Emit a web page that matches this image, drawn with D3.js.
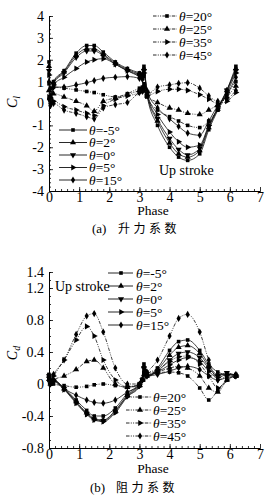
<!doctype html>
<html lang="zh">
<head>
<meta charset="utf-8">
<script src="https://d3js.org/d3.v7.min.js"></script>
<style>
  body { margin: 0; background: #fff; }
  svg { display: block; }
  svg text { font-family: "Liberation Serif", "DejaVu Serif", serif; }
  svg text.cjk { font-family: "Noto Sans CJK SC", sans-serif; }
</style>
</head>
<body>
<div id="chart"></div>
<script>
// phase samples shared by all curves
const phase = [0, 0.05, 0.15, 0.5, 0.9, 1.25, 1.5, 1.8, 2.2, 2.6, 3.0, 3.1, 3.15, 3.25, 3.6, 4.0, 4.3, 4.6, 5.0, 5.3, 5.6, 5.9, 6.2];
const thetas = ["-5", "2", "0", "5", "15", "20", "25", "35", "45"];

// lift coefficient
const lift_m5 = [1.9, 0.4, 1.0, 1.5, 2.3, 2.65, 2.65, 2.35, 1.9, 1.6, 1.4, 1.35, 1.7, 0.4, -1.0, -2.0, -2.45, -2.6, -2.3, -1.2, -0.3, 0.6, 1.7];
const lift_2  = [1.7, 0.3, 0.95, 1.45, 2.2, 2.5, 2.5, 2.25, 1.85, 1.55, 1.35, 1.3, 1.6, 0.45, -0.8, -1.8, -2.3, -2.45, -2.15, -1.1, -0.25, 0.6, 1.6];
const lift_0  = [1.5, 0.2, 0.9, 1.4, 2.1, 2.4, 2.4, 2.2, 1.8, 1.5, 1.3, 1.25, 1.5, 0.5, -0.7, -1.6, -2.1, -2.35, -2.05, -1.05, -0.2, 0.6, 1.5];
const lift_5  = [1.3, 0.1, 0.85, 1.2, 1.6, 1.9, 2.0, 2.05, 1.8, 1.5, 1.25, 1.2, 1.4, 0.5, -0.5, -1.3, -1.75, -2.0, -1.9, -1.0, -0.2, 0.5, 1.4];
const lift_15 = [1.0, 0.0, 0.75, 0.75, 0.85, 0.95, 1.05, 1.15, 1.2, 1.23, 1.15, 1.1, 1.3, 0.6, -0.2, -0.7, -1.05, -1.35, -1.45, -0.8, -0.1, 0.4, 1.2];
const lift_20 = [0.9, 0.7, 0.75, 0.7, 0.62, 0.55, 0.5, 0.4, 0.3, 0.45, 0.7, 0.75, 0.9, 0.3, -0.3, -0.6, -0.8, -1.0, -1.1, -0.8, -0.3, 0.4, 1.0];
const lift_25 = [0.6, 0.3, 0.45, 0.3, 0.1, -0.1, -0.35, 0.1, 0.25, 0.4, 0.6, 0.65, 0.8, 0.35, 0.05, -0.2, -0.3, -0.45, -0.5, -0.3, -0.05, 0.3, 0.8];
const lift_35 = [0.3, 0.0, 0.1, -0.15, -0.3, -0.45, -0.55, -0.1, 0.2, 0.35, 0.5, 0.6, 0.7, 0.35, 0.55, 0.65, 0.65, 0.6, 0.4, 0.2, 0.0, 0.1, 0.5];
const lift_45 = [0.2, -0.1, 0.0, -0.3, -0.45, -0.6, -0.7, -0.2, -0.05, 0.05, 0.5, 0.55, 0.6, 0.4, 0.75, 0.85, 0.92, 0.95, 0.7, 0.35, 0.1, 0.2, 0.6];

// drag coefficient
const drag_m5 = [0.12, 0.0, 0.05, -0.05, -0.2, -0.33, -0.4, -0.4, -0.3, -0.12, 0.0, 0.05, 0.25, 0.1, 0.2, 0.42, 0.53, 0.55, 0.42, 0.25, 0.15, 0.12, 0.12];
const drag_2  = [0.1, 0.0, 0.05, -0.06, -0.22, -0.36, -0.43, -0.45, -0.33, -0.14, -0.01, 0.05, 0.22, 0.1, 0.18, 0.36, 0.46, 0.48, 0.38, 0.22, 0.12, 0.12, 0.1];
const drag_0  = [0.1, 0.0, 0.04, -0.06, -0.23, -0.37, -0.44, -0.46, -0.34, -0.15, -0.02, 0.05, 0.2, 0.1, 0.16, 0.3, 0.38, 0.4, 0.33, 0.2, 0.1, 0.14, 0.1];
const drag_5  = [0.1, 0.0, 0.04, -0.07, -0.24, -0.38, -0.45, -0.47, -0.36, -0.16, -0.03, 0.05, 0.18, 0.1, 0.15, 0.24, 0.3, 0.33, 0.28, 0.16, 0.08, 0.12, 0.1];
const drag_15 = [0.08, 0.0, 0.03, -0.06, -0.14, -0.2, -0.23, -0.24, -0.2, -0.1, -0.02, 0.05, 0.15, 0.1, 0.12, 0.16, 0.2, 0.22, 0.18, 0.1, 0.05, 0.08, 0.1];
const drag_20 = [0.05, 0.02, 0.0, -0.02, -0.04, -0.03, -0.01, 0.0, -0.02, -0.04, 0.0, 0.05, 0.12, 0.12, 0.14, 0.15, 0.14, 0.1, -0.05, -0.2, -0.08, 0.05, 0.1];
const drag_25 = [0.06, 0.02, 0.05, 0.1, 0.18, 0.28, 0.3, 0.2, 0.0, -0.04, -0.02, 0.05, 0.12, 0.13, 0.15, 0.2, 0.22, 0.2, 0.1, -0.05, -0.1, 0.05, 0.1];
const drag_35 = [0.06, 0.04, 0.1, 0.3, 0.55, 0.72, 0.6, 0.3, 0.05, -0.03, -0.01, 0.05, 0.12, 0.14, 0.18, 0.28, 0.34, 0.35, 0.25, 0.1, -0.05, 0.05, 0.1];
const drag_45 = [0.08, 0.05, 0.12, 0.3, 0.62, 0.85, 0.88, 0.65, 0.2, 0.0, 0.0, 0.05, 0.12, 0.15, 0.3, 0.6, 0.82, 0.87, 0.65, 0.3, 0.05, 0.1, 0.12];

const xTicks = [0, 1, 2, 3, 4, 5, 6, 7];
const liftTicks = [-4, -3, -2, -1, 0, 1, 2, 3, 4];
const dragTicks = [-0.8, -0.4, 0, 0.4, 0.8, 1.2, 1.4];

const liftSeries = [lift_m5, lift_2, lift_0, lift_5, lift_15, lift_20, lift_25, lift_35, lift_45];
const dragSeries = [drag_m5, drag_2, drag_0, drag_5, drag_15, drag_20, drag_25, drag_35, drag_45];

const svg = d3.select("#chart").append("svg")
  .attr("width", 269)
  .attr("height", 496);

const x = d3.scaleLinear().domain([0, 7]).range([49, 260]);
const yLift = d3.scaleLinear().domain([-4, 4]).range([191, 16]);
const yDrag = d3.scaleLinear().domain([-0.8, 1.4]).range([448, 272]);

const shapes = ["square", "up", "down", "right", "diamond", "square", "up", "right", "diamond"];
const dashStyle = "3.5 1.3 1 1.3 1 1.3";

function marker(shape) {
  if (shape === "square") return {d: d3.symbol().type(d3.symbolSquare).size(13)(), rot: 0};
  if (shape === "diamond") return {d: d3.symbol().type(d3.symbolDiamond).size(15)(), rot: 0};
  const t = d3.symbol().type(d3.symbolTriangle).size(16)();
  return {d: t, rot: shape === "down" ? 180 : shape === "right" ? 90 : 0};
}

function drawAxes(y, yTicks, yMinorStep) {
  const y0 = y.range()[0];
  // minor ticks
  svg.append("g")
    .attr("transform", `translate(0,${y0})`)
    .call(d3.axisBottom(x).tickValues(d3.range(0, 35).map(i => i * 0.2)).tickSize(-2).tickSizeOuter(0).tickFormat(""));
  const [lo, hi] = y.domain();
  const n = Math.round((hi - lo) / yMinorStep);
  svg.append("g")
    .attr("transform", `translate(${x(0)},0)`)
    .call(d3.axisLeft(y).tickValues(d3.range(0, n + 1).map(i => lo + i * yMinorStep)).tickSize(-2).tickSizeOuter(0).tickFormat(""));

  // major ticks
  const gx = svg.append("g")
    .attr("transform", `translate(0,${y0})`)
    .call(d3.axisBottom(x).tickValues(xTicks).tickSize(-4).tickSizeOuter(0).tickPadding(1).tickFormat(d => String(d)));
  const gy = svg.append("g")
    .attr("transform", `translate(${x(0)},0)`)
    .call(d3.axisLeft(y).tickValues(yTicks).tickSize(-4).tickSizeOuter(0).tickPadding(5).tickFormat(d => String(d)));
  [gx, gy].forEach(g => {
    g.attr("font-family", null);
    g.selectAll("text").attr("font-size", "14px").attr("fill", "#000");
    g.selectAll("line, path").attr("stroke", "#000");
  });
  svg.selectAll(".tick line").attr("stroke-width", 0.8);
}

function drawCurves(y, series) {
  const line = d3.line()
    .x((d, i) => x(phase[i]))
    .y(d => y(d))
    .curve(d3.curveMonotoneX);
  series.forEach((vals, k) => {
    svg.append("path")
      .attr("d", line(vals))
      .attr("fill", "none")
      .attr("stroke", "#111")
      .attr("stroke-width", 0.8)
      .attr("stroke-dasharray", k >= 5 ? dashStyle : null);
    const m = marker(shapes[k]);
    svg.append("g").selectAll("path")
      .data(vals)
      .join("path")
        .attr("d", m.d)
        .attr("transform", (d, i) => `translate(${x(phase[i])},${y(d)}) rotate(${m.rot})`)
        .attr("fill", "#000");
  });
}

function drawLegend(ids, x0, x1, xm, xt, rows) {
  ids.forEach((k, j) => {
    const yy = rows[j];
    svg.append("line")
      .attr("x1", x0).attr("x2", x1).attr("y1", yy).attr("y2", yy)
      .attr("stroke", "#111").attr("stroke-width", 0.9)
      .attr("stroke-dasharray", k >= 5 ? dashStyle : null);
    const m = marker(shapes[k]);
    svg.append("path").attr("d", m.d)
      .attr("transform", `translate(${xm},${yy}) rotate(${m.rot})`)
      .attr("fill", "#000");
    const t = svg.append("text")
      .attr("x", xt).attr("y", yy + 4.5)
      .attr("font-size", "13.5px");
    t.append("tspan").attr("font-style", "italic").text("θ");
    t.append("tspan").text("=" + thetas[k] + "°");
  });
}

function yLabel(cx, cy, sub) {
  const t = svg.append("text")
    .attr("transform", `translate(${cx},${cy}) rotate(-90)`)
    .attr("text-anchor", "middle")
    .attr("font-size", "14px")
    .attr("font-style", "italic");
  t.append("tspan").text("C");
  t.append("tspan").attr("font-size", "10px").attr("dy", 3).text(sub);
}

function caption(x0, cy, tag, words) {
  svg.append("text").attr("x", x0).attr("y", cy + 4.5)
    .attr("font-size", "13px").text(tag);
  svg.append("text").attr("class", "cjk").attr("x", x0 + 26).attr("y", cy + 4.5)
    .attr("font-size", "12px")
    .attr("letter-spacing", "3.5px")
    .text(words);
}

// (a) lift
drawAxes(yLift, liftTicks, 0.2);
drawCurves(yLift, liftSeries);
drawLegend([5, 6, 7, 8], 153, 177, 167, 179, [16, 29, 42, 55]);
drawLegend([0, 1, 2, 3, 4], 59, 87, 73, 89, [130, 142.5, 155, 167.5, 180]);
svg.append("text").attr("x", 159).attr("y", 175).attr("font-size", "14px").text("Up stroke");
yLabel(17, 102, "l");
svg.append("text").attr("x", 153).attr("y", 215).attr("text-anchor", "middle")
  .attr("font-size", "13.5px").text("Phase");
caption(92, 228, "(a)", "升力系数");

// (b) drag
drawAxes(yDrag, dragTicks, 0.1);
drawCurves(yDrag, dragSeries);
drawLegend([0, 1, 2, 3, 4], 108, 133, 121, 136, [273, 286, 299, 312, 325]);
drawLegend([5, 6, 7, 8], 126, 152, 140, 153, [397, 410, 423, 436]);
svg.append("text").attr("x", 55).attr("y", 291).attr("font-size", "14px").text("Up stroke");
yLabel(17, 353, "d");
svg.append("text").attr("x", 153).attr("y", 473).attr("text-anchor", "middle")
  .attr("font-size", "13.5px").text("Phase");
caption(90, 487, "(b)", "阻力系数");
</script>
</body>
</html>
